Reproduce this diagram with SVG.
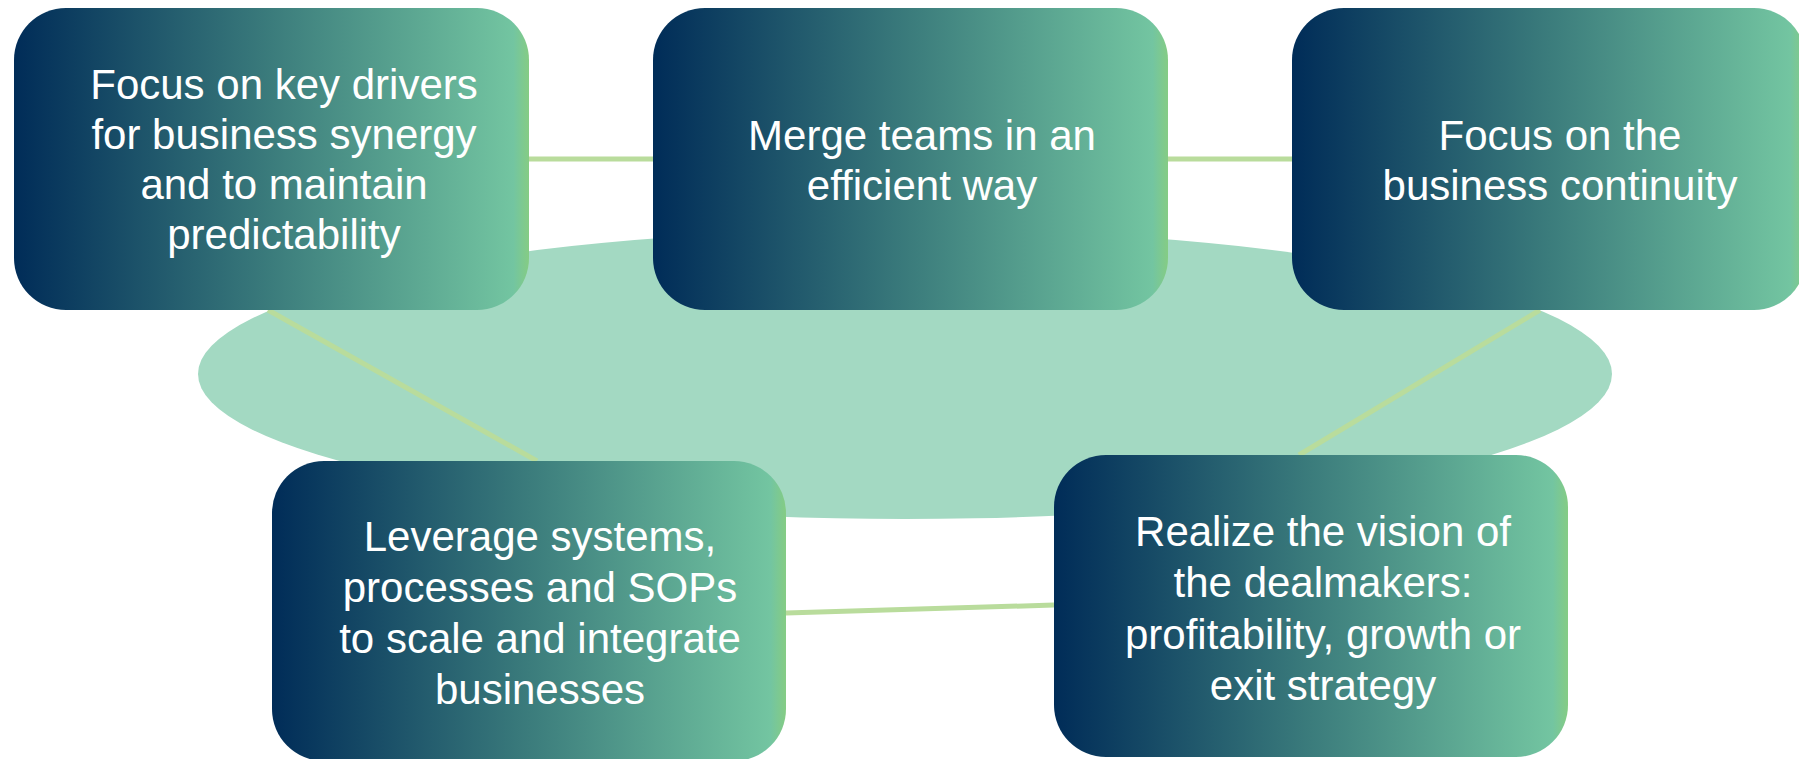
<svg xmlns="http://www.w3.org/2000/svg" width="1799" height="759" viewBox="0 0 1799 759">
<style>
.box{fill:url(#g)}
.t{font-family:"Liberation Sans",Arial,sans-serif;font-size:42px;fill:#fff;text-anchor:middle}
.c{stroke:#B9DC9C;stroke-width:5;fill:none}
</style>
<defs>
<linearGradient id="g" x1="0" y1="0" x2="1" y2="0">
<stop offset="0" stop-color="#002C58"/>
<stop offset="0.5" stop-color="#3B7C7C"/>
<stop offset="0.97" stop-color="#73C5A1"/>
<stop offset="1" stop-color="#85CC84"/>
</linearGradient>
</defs>
<rect width="1799" height="759" fill="#fff"/>
<ellipse id="center" cx="905" cy="374" rx="707" ry="145" fill="#A3D9C2"/>
<g id="connectors">
<line class="c" x1="529" y1="159" x2="653" y2="159"/>
<line class="c" x1="1168" y1="159" x2="1292" y2="159"/>
<line class="c" x1="268" y1="310" x2="537" y2="461"/>
<line class="c" x1="1540" y1="310" x2="1299" y2="455"/>
<line class="c" x1="786" y1="613" x2="1054" y2="605"/>
</g>
<g id="n1">
<rect class="box" x="14" y="8" width="515" height="302" rx="52"/>
<text class="t"><tspan x="284" y="99">Focus on key drivers</tspan><tspan x="284" y="149">for business synergy</tspan><tspan x="284" y="199">and to maintain</tspan><tspan x="284" y="249">predictability</tspan></text>
</g>
<g id="n2">
<rect class="box" x="653" y="8" width="515" height="302" rx="52"/>
<text class="t"><tspan x="922" y="150">Merge teams in an</tspan><tspan x="922" y="200">efficient way</tspan></text>
</g>
<g id="n3">
<rect class="box" x="1292" y="8" width="514" height="302" rx="52"/>
<text class="t"><tspan x="1560" y="150">Focus on the</tspan><tspan x="1560" y="200">business continuity</tspan></text>
</g>
<g id="n4">
<rect class="box" x="272" y="461" width="514" height="300" rx="52"/>
<text class="t"><tspan x="540" y="551">Leverage systems,</tspan><tspan x="540" y="602">processes and SOPs</tspan><tspan x="540" y="653">to scale and integrate</tspan><tspan x="540" y="704">businesses</tspan></text>
</g>
<g id="n5">
<rect class="box" x="1054" y="455" width="514" height="302" rx="52"/>
<text class="t"><tspan x="1323" y="546">Realize the vision of</tspan><tspan x="1323" y="597">the dealmakers:</tspan><tspan x="1323" y="649">profitability, growth or</tspan><tspan x="1323" y="700">exit strategy</tspan></text>
</g>
</svg>
